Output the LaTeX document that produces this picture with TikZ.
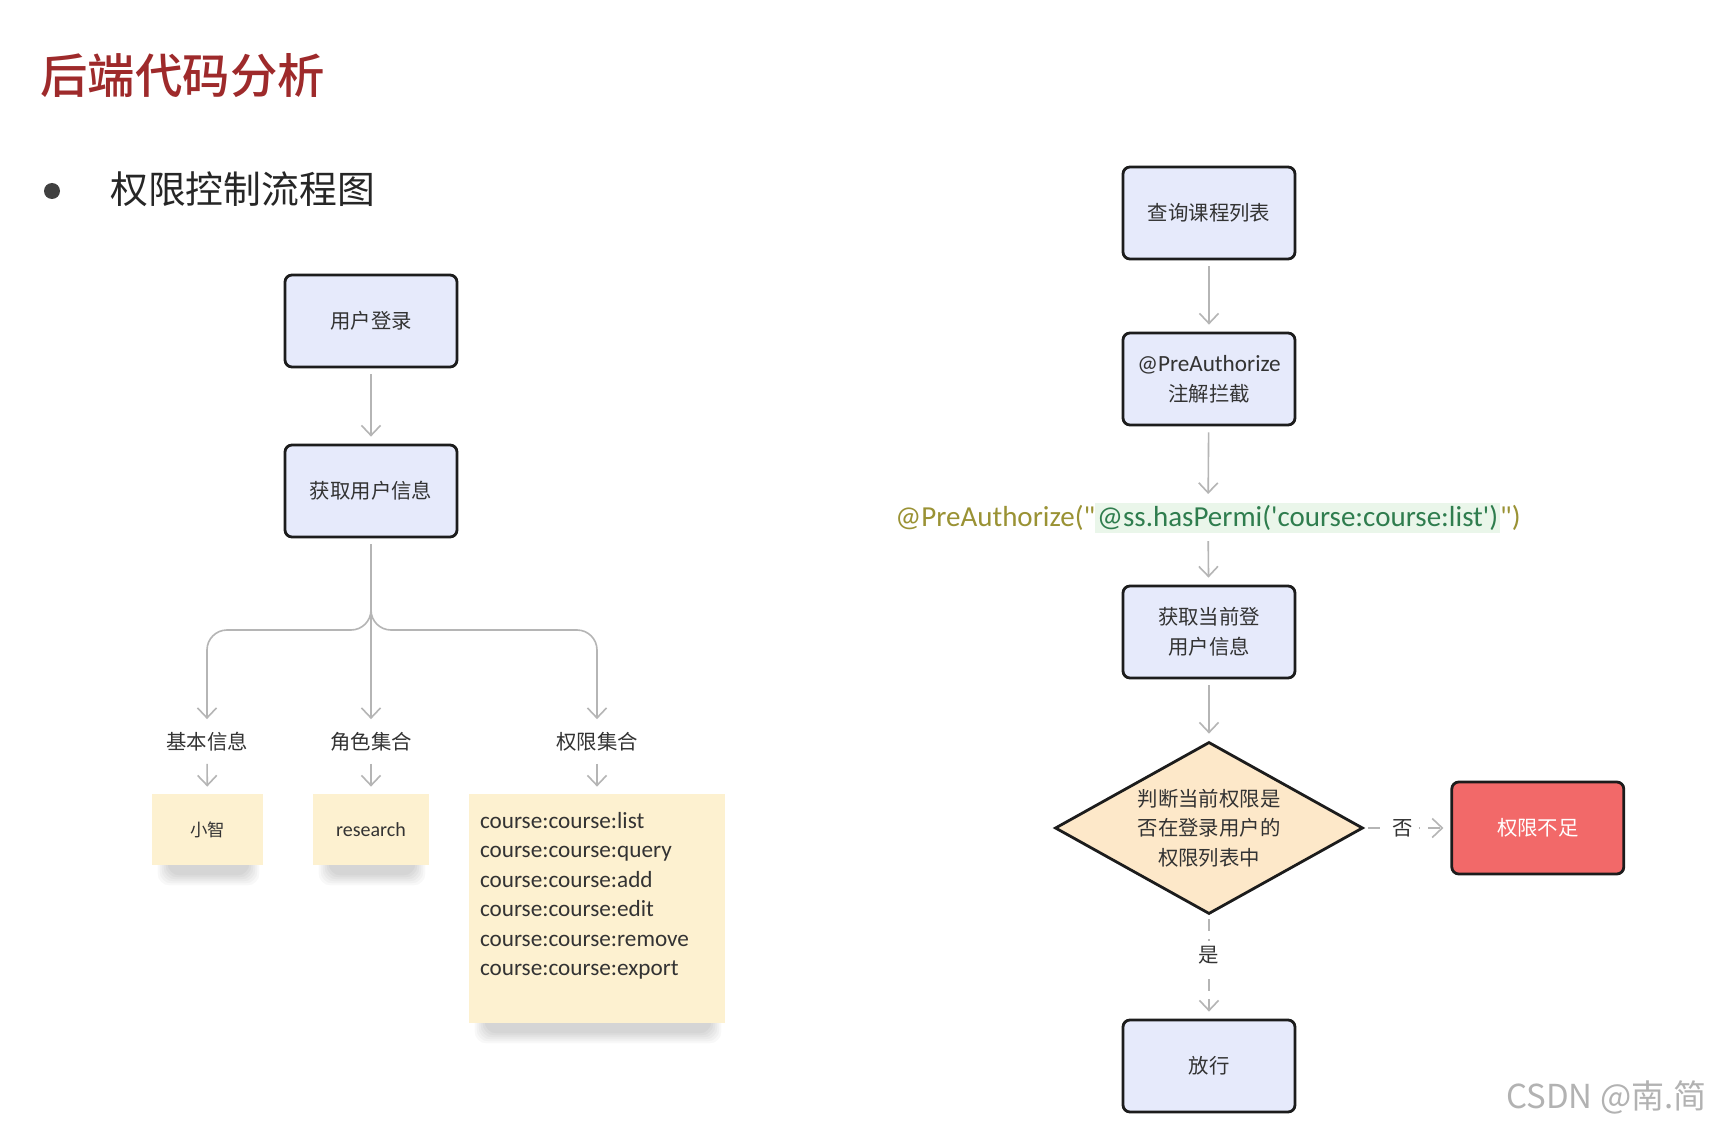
\documentclass[tikz,border=0pt]{standalone}
\usepackage{fontspec}
\setmainfont{Noto Sans CJK SC}
\newfontfamily\titlefont{Noto Sans CJK SC Medium}
\newfontfamily\latinfont[Ligatures=TeXOff]{Carlito}
\usetikzlibrary{shapes.geometric, arrows.meta, positioning, calc, backgrounds}

\definecolor{boxfill}{HTML}{E6EAFB}
\definecolor{boxline}{HTML}{1C1C1C}
\definecolor{notefill}{HTML}{FDF1D0}
\definecolor{diamondfill}{HTML}{FDE8C9}
\definecolor{denyfill}{HTML}{F26969}
\definecolor{linegray}{HTML}{B5B5B5}
\definecolor{titlered}{HTML}{9E2A2B}
\definecolor{codeolive}{HTML}{9A9234}
\definecolor{codegreen}{HTML}{2F7D4E}
\definecolor{codebg}{HTML}{EAF6EA}

\begin{document}
\begin{tikzpicture}[x=0.5pt, y=-0.5pt, node distance=40pt, font=\fontsize{10.2}{15}\selectfont,
    procbox/.style={rectangle, draw=boxline, fill=boxfill, line width=1.4pt, minimum width=86pt, minimum height=46pt, rounded corners=3.5pt, align=center, text=black!80},
    denybox/.style={procbox, fill=denyfill, text=white},
    decision/.style={diamond, draw=boxline, fill=diamondfill, line width=1.4pt, minimum width=154pt, minimum height=86pt, aspect=1.8, inner sep=0pt, align=center, text=black!80, font=\fontsize{10.2}{14.75}\selectfont},
    notebox/.style={rectangle, fill=notefill, align=center, text=black!80},
    tag/.style={font=\fontsize{10.2}{12}\selectfont, text=black!80, inner sep=3pt},
    arrow/.style={-{Straight Barb[length=5pt, width=9.5pt]}, draw=linegray, line width=0.8pt, shorten <=3pt, shorten >=3.5pt},
    dasharrow/.style={arrow, dash pattern=on 6pt off 4pt}]

  \begin{scope}[on background layer]
    \fill[white] (0,0) rectangle (1710,1129);
  \end{scope}
  \path[use as bounding box] (0,0) rectangle (1710,1129);

  % heading
  \node[anchor=west, inner sep=0pt, text=titlered, font=\titlefont\fontsize{23.7}{26}\selectfont] (title) at (40,76) {后端代码分析};
  \fill[black!75] (52,191) circle[radius=4pt];
  \node[anchor=west, inner sep=0pt, text=black!85, font=\fontsize{18.9}{22}\selectfont] (subtitle) at (110,189) {权限控制流程图};

  % left: login flow
  \node[procbox] (login) at (371,321) {用户登录};
  \node[procbox, below=37.6pt of login] (userinfo) {获取用户信息};
  \coordinate (split) at (371,630);

  \node[tag] (base) at (207,742) {基本信息};
  \node[tag] (roles) at (371,742) {角色集合};
  \node[tag] (perms) at (597,742) {权限集合};

  \node[notebox, minimum width=55.5pt, minimum height=35.5pt, font=\fontsize{8.7}{10}\selectfont] (name) at (207.5,829.5) {小智};
  \node[notebox, minimum width=58pt, minimum height=35.5pt, font=\latinfont\fontsize{10}{12}\selectfont] (role) at (371,829.5) {research};
  \node[notebox, minimum width=128pt, minimum height=114.5pt, text width=117pt, align=left, font=\latinfont\fontsize{11.6}{14.75}\selectfont] (permlist) at (597,908.5)
    {course:course:list\\course:course:query\\course:course:add\\course:course:edit\\course:course:remove\\course:course:export\\ \mbox{}};

  % soft shadows under the notes
  \begin{scope}[on background layer]
    \foreach \nd in {name, role, permlist}
      \foreach \k in {0,...,5}
        \fill[black, opacity=0.028, rounded corners=6pt]
          ($(\nd.south west)+(16-2*\k,-24)$) rectangle ($(\nd.south east)+(-14+2*\k,10+2*\k)$);
  \end{scope}

  \draw[arrow] (login) -- (userinfo);
  \draw[arrow, rounded corners=10pt] (userinfo.south) -- (split) -| (base.north);
  \draw[arrow] (userinfo) -- (roles);
  \draw[arrow, rounded corners=10pt] (userinfo.south) -- (split) -| (perms.north);
  \draw[arrow] (base) -- (name);
  \draw[arrow] (roles) -- (role);
  \draw[arrow] (perms) -- (permlist);

  % right: request flow
  \node[procbox] (query) at (1209,213) {查询课程列表};
  \node[procbox, below=35.6pt of query] (anno) {{\latinfont\fontsize{11.6}{12}\selectfont @PreAuthorize}\\注解拦截};
  \node[inner sep=1pt, font=\latinfont\fontsize{14.5}{16}\selectfont] (code) at (1208,518)
    {\setlength{\fboxsep}{1pt}\textcolor{codeolive}{@PreAuthorize("}\colorbox{codebg}{\textcolor{codegreen}{@ss.hasPermi('course:course:list')}}\textcolor{codeolive}{")}};
  \node[procbox] (current) at (1209,632) {获取当前登\\用户信息};
  \node[decision] (check) at (1209,828) {判断当前权限是\\否在登录用户的\\权限列表中};
  \node[denybox, right=43pt of check] (deny) {权限不足};
  \node[procbox, below=51.6pt of check] (pass) {放行};

  \draw[arrow] (query) -- (anno);
  \draw[arrow] (anno) -- (code);
  \draw[arrow] (code) -- (current);
  \draw[arrow] (current) -- (check);
  \draw[dasharrow, shorten <=2pt] (check) -- node[pos=0.45, fill=white, inner sep=3pt, text=black!80]{否} (deny);
  \draw[dasharrow, shorten <=2pt] (check) -- node[pos=0.39, fill=white, inner sep=3pt, text=black!80]{是} (pass);

  % watermark
  \node[anchor=east, inner sep=0pt, text=black!30, font=\fontsize{16.5}{18}\selectfont] (mark) at (1707,1097) {CSDN @南.简};
\end{tikzpicture}
\end{document}
